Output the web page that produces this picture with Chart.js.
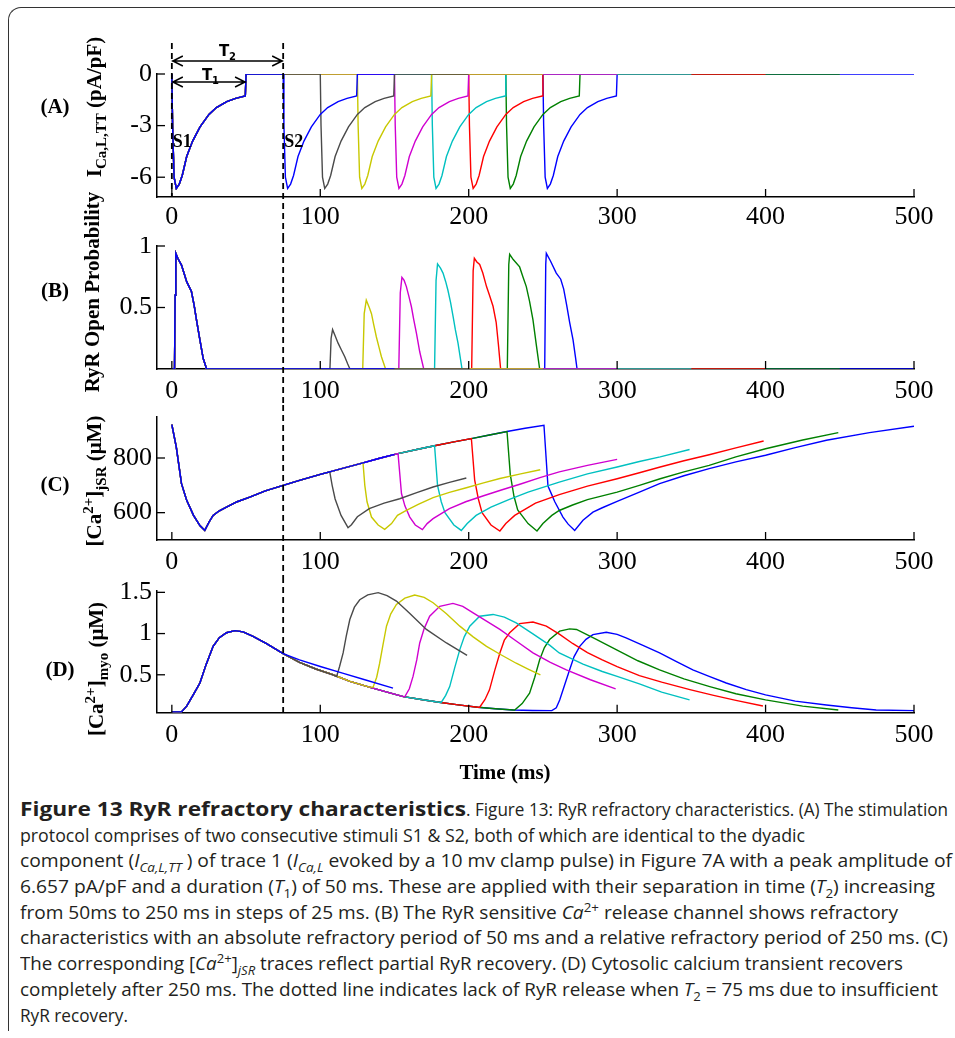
<!DOCTYPE html>
<html><head><meta charset="utf-8">
<script src="https://cdn.jsdelivr.net/npm/chart.js@4.4.1/dist/chart.umd.min.js"></script>
<style>
html,body{margin:0;padding:0;background:#fff;}
body{width:955px;height:1038px;position:relative;overflow:hidden;}
.frame{position:absolute;left:8px;top:7px;width:1000px;height:1023px;border-left:1px solid #333;border-top:1px solid #333;border-top-left-radius:13px;}
canvas{position:absolute;left:0;}
.lab{position:absolute;font-family:"Liberation Serif",serif;font-weight:bold;color:#000;white-space:nowrap;font-size:21px;}
.rot{transform:translate(-50%,-50%) rotate(-90deg);}
.ctr{transform:translate(-50%,-50%);}
.lab sub,.lab sup{line-height:0;font-size:15px;}
.cap{position:absolute;left:20px;top:797px;width:935px;font-family:"Open Sans",sans-serif;font-size:18px;line-height:25.7px;color:#231f20;}
.cap div{white-space:nowrap;height:25.7px;position:relative;}
.cap span{position:absolute;top:0;white-space:nowrap;transform-origin:0 50%;}
.cap span.big{font-size:20px;}
.cap sub,.cap sup{font-size:0.7em;line-height:0;}
</style></head><body>
<div class="frame"></div>
<canvas id="cA" width="955" height="237" style="top:0px"></canvas>
<canvas id="cB" width="955" height="168" style="top:237px"></canvas>
<canvas id="cC" width="955" height="172" style="top:405px"></canvas>
<canvas id="cD" width="955" height="213" style="top:577px"></canvas>

<div class="lab ctr" style="left:55px;top:106px">(A)</div>
<div class="lab ctr" style="left:55px;top:290px">(B)</div>
<div class="lab ctr" style="left:55px;top:484px">(C)</div>
<div class="lab ctr" style="left:60px;top:669px">(D)</div>

<div class="lab rot" style="left:94px;top:107px">I<sub>Ca,L,TT</sub> (pA/pF)</div>
<div class="lab rot" style="left:92px;top:292px">RyR Open Probability</div>
<div class="lab rot" style="left:94px;top:481px">[Ca<sup>2+</sup>]<sub>jSR</sub> (μM)</div>
<div class="lab rot" style="left:96px;top:669px">[Ca<sup>2+</sup>]<sub>myo</sub> (μM)</div>
<div class="lab ctr" style="left:505px;top:772px">Time (ms)</div>

<div class="cap" id="cap">
<div><span class="big" data-x="0" data-w="446" style="top:-1px"><b>Figure 13 RyR refractory characteristics</b></span><span data-x="446" data-w="482">. Figure 13: RyR refractory characteristics. (A) The stimulation</span></div>
<div><span data-x="0" data-w="785">protocol comprises of two consecutive stimuli S1 &amp; S2, both of which are identical to the dyadic</span></div>
<div><span data-x="0" data-w="932">component (<i>I</i><sub><i>Ca,L,TT</i></sub> ) of trace 1 (<i>I</i><sub><i>Ca,L</i></sub> evoked by a 10 mv clamp pulse) in Figure 7A with a peak amplitude of</span></div>
<div><span data-x="0" data-w="915">6.657 pA/pF and a duration (<i>T</i><sub>1</sub>) of 50 ms. These are applied with their separation in time (<i>T</i><sub>2</sub>) increasing</span></div>
<div><span data-x="0" data-w="878">from 50ms to 250 ms in steps of 25 ms. (B) The RyR sensitive <i>Ca</i><sup>2+</sup> release channel shows refractory</span></div>
<div><span data-x="0" data-w="928">characteristics with an absolute refractory period of 50 ms and a relative refractory period of 250 ms. (C)</span></div>
<div><span data-x="0" data-w="883">The corresponding [<i>Ca</i><sup>2+</sup>]<sub><i>jSR</i></sub> traces reflect partial RyR recovery. (D) Cytosolic calcium transient recovers</span></div>
<div><span data-x="0" data-w="918">completely after 250 ms. The dotted line indicates lack of RyR release when <i>T</i><sub>2</sub> = 75 ms due to insufficient</span></div>
<div><span data-x="0" data-w="108">RyR recovery.</span></div>
</div>

<script>
// ---------- tick values / labels ----------
const xTicks = [0, 100, 200, 300, 400, 500];
const xTickLabels = ['0', '100', '200', '300', '400', '500'];
const yTicksA = [-6, -3, 0];      const yLabelsA = ['-6', '-3', '0'];
const yTicksB = [0.5, 1];         const yLabelsB = ['0.5', '1'];
const yTicksC = [600, 800];       const yLabelsC = ['600', '800'];
const yTicksD = [0.5, 1, 1.5];    const yLabelsD = ['0.5', '1', '1.5'];

// protocol times (ms)
const T1 = 50, T2 = 75;
const traceNames = ['T2=75', 'T2=100', 'T2=125', 'T2=150', 'T2=175', 'T2=200', 'T2=225', 'T2=250'];
const endTimes = [150, 200, 250, 300, 350, 400, 450, 500];

// ---------- Panel A : I_Ca,L,TT (pA/pF) ----------
const pulseValsA = [0, -3, -6, -6.65, -6.4, -5.9, -4.8, -3.9, -3.07, -2.35, -1.95, -1.6, -1.42, -1.28, 0];
const s1TimesA   = [0, 0.5, 1.5, 3, 5, 7, 10, 14, 19, 25, 30, 37, 43, 49.5, 50];
const s2TimesA75  = [75, 75.5, 76.5, 78, 80, 82, 85, 89, 94, 100, 105, 112, 118, 124.5, 125];
const s2TimesA100 = [100, 100.5, 101.5, 103, 105, 107, 110, 114, 119, 125, 130, 137, 143, 149.5, 150];
const s2TimesA125 = [125, 125.5, 126.5, 128, 130, 132, 135, 139, 144, 150, 155, 162, 168, 174.5, 175];
const s2TimesA150 = [150, 150.5, 151.5, 153, 155, 157, 160, 164, 169, 175, 180, 187, 193, 199.5, 200];
const s2TimesA175 = [175, 175.5, 176.5, 178, 180, 182, 185, 189, 194, 200, 205, 212, 218, 224.5, 225];
const s2TimesA200 = [200, 200.5, 201.5, 203, 205, 207, 210, 214, 219, 225, 230, 237, 243, 249.5, 250];
const s2TimesA225 = [225, 225.5, 226.5, 228, 230, 232, 235, 239, 244, 250, 255, 262, 268, 274.5, 275];
const s2TimesA250 = [250, 250.5, 251.5, 253, 255, 257, 260, 264, 269, 275, 280, 287, 293, 299.5, 300];

// ---------- Panel B : RyR open probability ----------
const s1B = [[0,0],[1.8,0],[2.2,0.6],[2.7,0.94],[4,0.9],[6.5,0.845],[10,0.71],[13.2,0.63],[15,0.52],[16.6,0.40],[18.9,0.236],[21.1,0.087],[23.4,0]];
const b75  = [[75,0],[150,0]];
const b100 = [[100,0],[106.5,0],[107.3,0.25],[108.3,0.32],[110,0.27],[112,0.21],[114,0.16],[116.5,0.10],[118.5,0.04],[120,0],[200,0]];
const b125 = [[125,0],[128.6,0],[129.6,0.45],[131,0.56],[133,0.50],[134.5,0.45],[136,0.36],[137.8,0.26],[139.5,0.18],[141.2,0.10],[144,0],[250,0]];
const b150 = [[150,0],[152.9,0],[153.9,0.62],[155,0.745],[156.5,0.72],[158,0.67],[159.7,0.59],[161.4,0.506],[163,0.40],[164.8,0.29],[167,0.14],[169.7,0],[300,0]];
const b175 = [[175,0],[177,0],[178,0.72],[179,0.854],[181,0.82],[182.7,0.78],[184.5,0.71],[186,0.64],[187.8,0.54],[189.5,0.425],[191,0.32],[192.8,0.21],[195.5,0],[350,0]];
const b200 = [[200,0],[202,0],[203,0.8],[203.8,0.90],[205.5,0.87],[207.4,0.85],[209.5,0.78],[212,0.67],[214,0.6],[216.4,0.51],[218.5,0.38],[220,0.2],[221.5,0],[400,0]];
const b225 = [[225,0],[226,0],[227,0.85],[227.6,0.932],[230,0.89],[234.3,0.83],[236.5,0.75],[238.8,0.67],[241,0.55],[243.3,0.40],[245.5,0.2],[247.8,0],[450,0]];
const b250 = [[250,0],[251.2,0],[251.9,0.85],[252.3,0.94],[255,0.88],[259,0.78],[262,0.73],[264,0.65],[266,0.52],[268,0.38],[270.3,0.236],[272,0.09],[273,0],[500,0]];

// ---------- Panel C : [Ca2+]jSR (uM) ----------
const commonC = [[0,922],[3,840],[6.5,706],[10,645],[14.6,590],[18.9,553],[22.2,535],[25,565],[27.8,590],[32,607],[36.8,620],[44,640],[52.5,657],[63,680],[75,700],[86,718],[100,740],[106.4,749],[115,762],[128.8,782],[140,799],[152.4,816],[165,831],[177,845],[190,859],[201.8,871],[214,884],[225.8,897],[238,909],[250.7,920]];
const c75  = [[75,700],[86,718],[100,740],[115,762],[128.8,782],[140,799],[150,813]];
const c100 = [[106.4,749],[108,700],[110,650],[114,590],[118.7,545],[121,556],[125,585],[133,615],[143,635],[153.5,651],[165,673],[176,694],[187,711],[198.4,727]];
const c125 = [[128.8,782],[130,700],[131.5,640],[134.5,584],[139,555],[143.4,539],[148,560],[152,590],[158,608],[166,630],[176,655],[187,674],[198.4,691],[210,709],[221,725],[235,742],[248.2,757]];
const c150 = [[152.4,816],[154.7,670],[157,625],[160.3,584],[164,555],[168.8,538],[172,560],[176,578],[187,615],[198,640],[210,662],[222,683],[235,705],[248,728],[261,749],[280,773],[300,795]];
const c175 = [[177,845],[179,700],[181.5,640],[184,600],[190,555],[195,535],[199,560],[205,590],[215,620],[227,648],[240,675],[261,712],[280,742],[300,767],[315,787],[329,804],[348.8,831]];
const c200 = [[201.8,871],[204,720],[206.5,650],[209,600],[215,555],[221,533],[225,560],[231,590],[245,635],[261,666],[280,697],[300,724],[315,746],[329,767],[345,790],[362,812],[380,837],[398.7,862]];
const c225 = [[225.8,897],[228,740],[230.5,660],[233,610],[240,560],[246,533],[250,560],[256,590],[261,608],[270,628],[280,648],[300,675],[315,700],[329,724],[345,749],[362,773],[380,804],[400,834],[425,866],[449,893]];
const c250 = [[250.7,920],[253.4,697],[256,665],[258,640],[263.5,584],[267,558],[271.4,535],[277,572],[283.7,602],[290,618],[300,641],[315,675],[328.6,706],[345,735],[362,761],[380,786],[400,810],[420,838],[441,865],[470,893],[500,916]];

// ---------- Panel D : [Ca2+]myo (uM) ----------
const commonD = [[0,0.05],[6.5,0.05],[10,0.12],[14.4,0.256],[18.9,0.40],[23,0.62],[27.8,0.845],[32,0.95],[36.8,1.01],[42.4,1.036],[48,1.02],[54.7,0.967],[63.8,0.878],[75,0.756],[86,0.65],[97,0.57],[108.6,0.50],[120,0.42],[133,0.35],[145,0.29],[156,0.235],[168,0.20],[180,0.167],[193,0.135],[206,0.106],[218,0.088],[230,0.073],[243,0.067],[256,0.065]];
const d75  = [[75,0.756],[86,0.68],[100,0.60],[115,0.52],[130,0.44],[149,0.338]];
const d100 = [[111,0.48],[113,0.60],[115.4,0.765],[117.5,0.97],[119.9,1.17],[123,1.32],[126.6,1.41],[132,1.47],[139,1.496],[145,1.46],[151.3,1.394],[160,1.25],[171.5,1.05],[185,0.886],[198.9,0.735]];
const d125 = [[135.6,0.35],[138,0.47],[140,0.64],[142.3,0.87],[144.6,1.09],[147.5,1.24],[151.3,1.354],[157,1.43],[163.6,1.467],[170,1.44],[176,1.374],[185,1.24],[194,1.09],[203,0.96],[212,0.845],[222,0.74],[232,0.64],[240,0.57],[248.3,0.50]];
const d150 = [[157,0.235],[160,0.33],[162.5,0.48],[165,0.68],[167,0.886],[170,1.06],[173.7,1.21],[180.5,1.33],[189.4,1.366],[196,1.33],[203,1.25],[212,1.15],[221,1.05],[232,0.91],[243.3,0.765],[255,0.65],[265.8,0.56],[282,0.44],[299,0.33]];
const d175 = [[181.6,0.167],[184.5,0.25],[187.2,0.357],[190.5,0.58],[194,0.805],[197,0.96],[200.7,1.09],[207.4,1.21],[216.4,1.232],[224,1.2],[232,1.13],[243,1.0],[254.5,0.86],[261,0.765],[277,0.63],[290,0.54],[300,0.48],[315,0.39],[330,0.29],[348.8,0.195]];
const d200 = [[207.4,0.106],[211,0.2],[214,0.317],[217.5,0.55],[221,0.765],[224,0.92],[227.6,1.01],[234.3,1.12],[243.3,1.14],[252.3,1.09],[261.3,0.99],[270,0.88],[280,0.77],[290,0.68],[300,0.60],[315,0.49],[330,0.41],[349,0.32],[365,0.25],[380,0.19],[398.2,0.122]];
const d225 = [[231,0.073],[236,0.15],[241,0.277],[244.5,0.47],[247.8,0.683],[251,0.83],[254.5,0.927],[261.3,1.03],[268,1.057],[272.6,1.05],[285,0.94],[300,0.80],[314,0.67],[328.6,0.56],[345,0.45],[362.4,0.357],[380,0.27],[400,0.195],[425,0.12],[449,0.073]];
const d250 = [[256,0.065],[259,0.10],[261.3,0.195],[264.5,0.37],[268,0.56],[271,0.72],[274.8,0.845],[279,0.93],[283.7,0.988],[292.7,1.016],[300,0.99],[306,0.947],[317,0.86],[328.6,0.765],[340,0.66],[351,0.56],[362,0.48],[373.5,0.40],[387,0.32],[400,0.256],[420,0.18],[441,0.134],[458,0.10],[474.5,0.073],[500,0.065]];

// ---------- styles ----------
const traceColors = ['#0000ff', '#4a4a4a', '#c8c800', '#d000d0', '#00c0c0', '#ff0000', '#008000', '#0000ff'];

// ---------- assemble ----------
const zip = (ts, vs) => ts.map((t, i) => [t, vs[i]]);
const s1A = zip(s1TimesA, pulseValsA);
const s2A = [s2TimesA75, s2TimesA100, s2TimesA125, s2TimesA150, s2TimesA175, s2TimesA200, s2TimesA225, s2TimesA250];
const ownA = s2A.map((ts, k) => zip(ts, pulseValsA).concat([[endTimes[k], 0]]));
const ownB = [b75, b100, b125, b150, b175, b200, b225, b250];
const ownC = [c75, c100, c125, c150, c175, c200, c225, c250];
const ownD = [d75, d100, d125, d150, d175, d200, d225, d250];

function joinTrace(common, own) {
  return common.filter(p => p[0] < own[0][0]).concat(own).map(p => ({x: p[0], y: p[1]}));
}
function buildSets(common, owns) {
  return owns.map((own, k) => ({
    label: traceNames[k], data: joinTrace(common, own),
    borderColor: traceColors[k], borderWidth: 1.4, pointRadius: 0, tension: 0, fill: false
  }));
}

const CHART_LEFT = 157, CHART_RIGHT = 914, W = 955;
const serif = '"Liberation Serif", "Times New Roman", serif';

function line(ctx, x0, y0, x1, y1) { ctx.beginPath(); ctx.moveTo(x0, y0); ctx.lineTo(x1, y1); ctx.stroke(); }
function arrow(ctx, x0, x1, y) {
  ctx.beginPath();
  ctx.moveTo(x0, y); ctx.lineTo(x1, y);
  ctx.moveTo(x0 + 11, y - 5); ctx.lineTo(x0 + 1, y); ctx.lineTo(x0 + 11, y + 5);
  ctx.moveTo(x1 - 11, y - 5); ctx.lineTo(x1 - 1, y); ctx.lineTo(x1 - 11, y + 5);
  ctx.stroke();
}

const overlay = {
  id: 'overlay',
  afterDraw(chart, args, o) {
    const {ctx, chartArea: ca} = chart;
    const xs = chart.scales.x, ys = chart.scales.y;
    ctx.save();
    ctx.strokeStyle = '#000'; ctx.fillStyle = '#000'; ctx.lineWidth = 1.3; ctx.setLineDash([]);
    xs.ticks.forEach(t => { const px = xs.getPixelForValue(t.value); line(ctx, px, ca.bottom, px, ca.bottom - 8); });
    ys.ticks.forEach(t => { const py = ys.getPixelForValue(t.value); line(ctx, ca.left, py, ca.left + 8, py); });
    ctx.lineWidth = 1.8; ctx.setLineDash([6, 4]);
    const p0 = xs.getPixelForValue(0), pT2 = xs.getPixelForValue(T2), pT1 = xs.getPixelForValue(T1);
    line(ctx, pT2, o.from, pT2, o.toArea ? ca.bottom : chart.height);
    if (o.arrows) {
      line(ctx, p0, o.from, p0, ca.bottom);
      ctx.setLineDash([]); ctx.lineWidth = 1.5;
      arrow(ctx, p0, pT2, 61);
      arrow(ctx, p0, pT1, 82);
      ctx.textBaseline = 'alphabetic'; ctx.textAlign = 'left';
      ctx.font = 'bold 15px "DejaVu Sans", sans-serif';
      ctx.fillText('T', 219, 56); ctx.fillText('T', 202, 80);
      ctx.font = 'bold 10px "DejaVu Sans", sans-serif';
      ctx.fillText('2', 229, 60); ctx.fillText('1', 212, 84);
      ctx.font = 'bold 18px ' + serif;
      ctx.fillText('S1', p0 + 1, 147);
      ctx.fillText('S2', pT2 + 1, 147);
    }
    ctx.restore();
  }
};

function makeChart(id, p) {
  const canvas = document.getElementById(id);
  const H = canvas.height;
  return new Chart(canvas, {
    type: 'line',
    data: {datasets: p.datasets},
    options: {
      responsive: false, animation: false, devicePixelRatio: 1,
      layout: {padding: {left: 0, right: W - CHART_RIGHT, top: p.areaTop, bottom: 0}},
      plugins: {legend: {display: false}, tooltip: {enabled: false}, overlay: p.overlay},
      scales: {
        x: {
          type: 'linear', min: -10, max: 500,
          grid: {display: false, drawTicks: false},
          border: {display: true, color: '#000', width: 1.5},
          afterBuildTicks: s => { s.ticks = xTicks.map(v => ({value: v})); },
          afterFit: s => { s.height = H - p.areaBottom; s.paddingLeft = 0; s.paddingRight = 0; },
          ticks: {autoSkip: false, maxRotation: 0, padding: p.xPad, color: '#000',
                  font: {family: serif, size: 26}, callback: (v, i) => xTickLabels[i]}
        },
        y: {
          type: 'linear', min: p.yMin, max: p.yMax,
          grid: {display: false, drawTicks: false},
          border: {display: true, color: '#000', width: 1.5},
          afterBuildTicks: s => { s.ticks = p.yTicks.map(v => ({value: v})); },
          afterFit: s => { s.width = CHART_LEFT; s.paddingTop = 0; s.paddingBottom = 0; },
          ticks: {autoSkip: false, padding: 5, color: '#000',
                  font: {family: serif, size: 26}, callback: (v, i) => p.yLabels[i]}
        }
      }
    },
    plugins: [overlay]
  });
}

function render() {
  makeChart('cA', {areaTop: 74, areaBottom: 197, yMin: -7.15, yMax: 0, yTicks: yTicksA, yLabels: yLabelsA,
    xPad: 5, datasets: buildSets(s1A, ownA), overlay: {from: 43, toArea: false, arrows: true}});
  makeChart('cB', {areaTop: 9, areaBottom: 132, yMin: 0, yMax: 1, yTicks: yTicksB, yLabels: yLabelsB,
    xPad: 6.5, datasets: buildSets(s1B, ownB), overlay: {from: 0, toArea: false, arrows: false}});
  makeChart('cC', {areaTop: 12, areaBottom: 135, yMin: 500, yMax: 950, yTicks: yTicksC, yLabels: yLabelsC,
    xPad: 6.5, datasets: buildSets(commonC, ownC), overlay: {from: 0, toArea: false, arrows: false}});
  makeChart('cD', {areaTop: 13.7, areaBottom: 135.7, yMin: 0.04, yMax: 1.52, yTicks: yTicksD, yLabels: yLabelsD,
    xPad: 6.5, datasets: buildSets(commonD, ownD), overlay: {from: 0, toArea: true, arrows: false}});

  // fit caption pieces to the reference widths
  document.querySelectorAll('#cap span').forEach(s => {
    const w = s.getBoundingClientRect().width;
    s.style.left = s.dataset.x + 'px';
    s.style.transform = 'scaleX(' + (parseFloat(s.dataset.w) / w) + ')';
  });
}
render();
</script>
</body></html>
